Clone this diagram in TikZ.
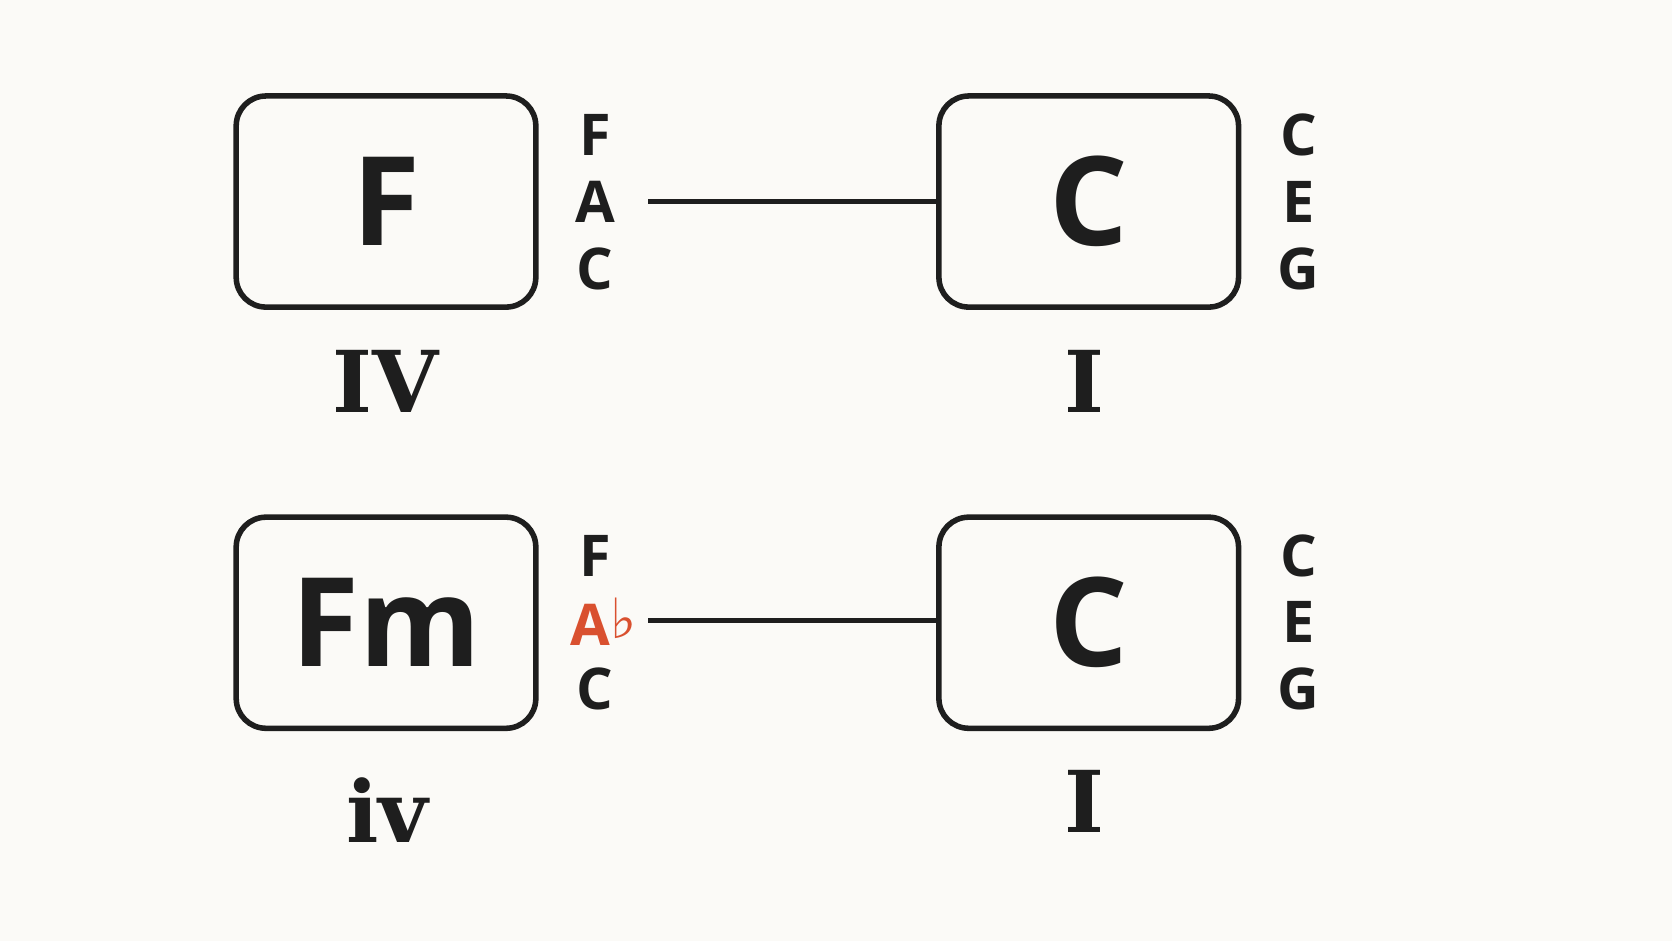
\documentclass[tikz,border=0pt]{standalone}
\usepackage{fontspec}
\setmainfont{Open Sans}
\newfontfamily\numfont{DejaVu Serif}
\newfontfamily\symfont{DejaVu Sans}
\definecolor{bg}{HTML}{FBFAF7}
\definecolor{ink}{HTML}{1E1E1E}
\definecolor{flatred}{HTML}{D9502F}
\begin{document}
\begin{tikzpicture}[x=0.5pt,y=-0.5pt,
  chord/.style={draw=ink,line width=2.6pt,rounded corners=14pt,minimum width=140.5pt,minimum height=99pt,inner sep=0pt,text=ink,font=\fontsize{58}{58}\selectfont\bfseries},
  note/.style={text=ink,inner sep=0pt,font=\fontsize{27}{27}\selectfont\bfseries},
  num/.style={text=ink,inner sep=0pt,font=\fontsize{40}{40}\selectfont\numfont\bfseries},
  link/.style={draw=ink,line width=2.4pt}]
\fill[bg] (0,0) rectangle (1568,882);
\useasboundingbox (0,0) rectangle (1568,882);
\node[chord] (f) at (362,189) {F};
\node[chord] (c1) at (1021,189) {C};
\node[chord] (fm) at (362,584) {Fm};
\node[chord] (c2) at (1021,584) {C};
\node[note] (n1) at (558,127) {F};
\node[note] (n2) at (558,189) {A};
\node[note] (n3) at (558,252) {C};
\node[note] (m1) at (1218,127) {C};
\node[note] (m2) at (1218,189) {E};
\node[note] (m3) at (1218,252) {G};
\node[note] (p1) at (558,521) {F};
\node[note,text=flatred] (p2) at (566,583) {A\raisebox{3pt}{\symfont\bfseries\fontsize{26}{26}\selectfont ♭}};
\node[note] (p3) at (558,646) {C};
\node[note] (q1) at (1218,521) {C};
\node[note] (q2) at (1218,583) {E};
\node[note] (q3) at (1218,646) {G};
\node[num] (r1) at (362,358) {IV};
\node[num] (r2) at (1017,358) {I};
\node[num] (r3) at (363,760) {iv};
\node[num] (r4) at (1017,752) {I};
\coordinate (s1) at (608,189);
\coordinate (s2) at (608,582);
\draw[link] (s1) -- (s1 -| c1.west);
\draw[link] (s2) -- (s2 -| c2.west);
\end{tikzpicture}
\end{document}
